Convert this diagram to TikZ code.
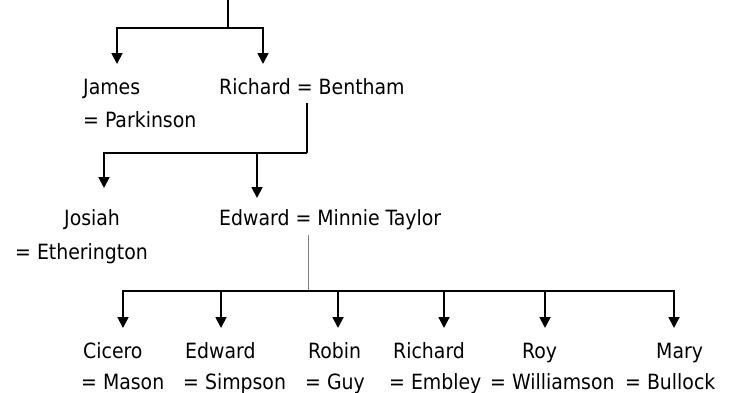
\documentclass[tikz,border=0pt]{standalone}
\usepackage{fontspec}
\setmainfont{DejaVu Sans Condensed}
\usetikzlibrary{arrows.meta}
\begin{document}
\begin{tikzpicture}[x=1pt,y=-1pt,
  lbl/.style={anchor=base west, inner sep=0pt, font=\fontsize{21}{25}\selectfont},
  ln/.style={line width=1.8pt, black},
  arr/.style={ln, -{Triangle[width=11pt,length=11pt]}},
  thinln/.style={line width=1pt, black!50}]
\useasboundingbox[fill=white] (0,0) rectangle (730,392);
% texts
\node[lbl] (james) at (83,94.5) {James};
\node[lbl] (jamesw) at (83,127.5) {= Parkinson};
\node[lbl] (rich) at (219,94.5) {Richard = Bentham};
\node[lbl] (josiah) at (64,225.5) {Josiah};
\node[lbl] (josiahw) at (15,259.5) {= Etherington};
\node[lbl] (edw) at (219,225.5) {Edward = Minnie Taylor};
\node[lbl] (c1) at (83,358) {Cicero};
\node[lbl] (c1w) at (81,389.5) {= Mason};
\node[lbl] (c2) at (185,358) {Edward};
\node[lbl] (c2w) at (183,389.5) {= Simpson};
\node[lbl] (c3) at (308,358) {Robin};
\node[lbl] (c3w) at (305,389.5) {= Guy};
\node[lbl] (c4) at (393,358) {Richard};
\node[lbl] (c4w) at (389,389.5) {= Embley};
\node[lbl] (c5) at (522,358) {Roy};
\node[lbl] (c5w) at (490,389.5) {= Williamson};
\node[lbl] (c6) at (656,358) {Mary};
\node[lbl] (c6w) at (625,389.5) {= Bullock};
% coordinates
\coordinate (top) at (228,0);
\coordinate (tj) at (228,28);
\coordinate (jamesTip) at (117,64);
\coordinate (richTip) at (263,64);
\coordinate (rbd) at (307,103);
\coordinate (r2) at (307,153);
\coordinate (e2) at (257,153);
\coordinate (josTip) at (104,188);
\coordinate (edTip) at (257,198);
\coordinate (emd) at (308,235);
\coordinate (em2) at (308,291);
\coordinate (b2) at (221,291);
\coordinate (b3) at (338,291);
\coordinate (b4) at (444,291);
\coordinate (b5) at (545,291);
\coordinate (t1) at (123,328);
\coordinate (t2) at (221,328);
\coordinate (t3) at (338,328);
\coordinate (t4) at (444,328);
\coordinate (t5) at (545,328);
\coordinate (t6) at (674,328);
% connectors
\draw[ln] (top) -- (tj);
\draw[arr] (tj) -| (jamesTip);
\draw[arr] (tj) -| (richTip);
\draw[ln] (rbd) -- (r2);
\draw[arr] (r2) -| (josTip);
\draw[arr] (e2) -- (edTip);
\draw[thinln] (emd) -- (em2);
\draw[arr] (em2) -| (t1);
\draw[arr] (em2) -| (t6);
\draw[arr] (b2) -- (t2);
\draw[arr] (b3) -- (t3);
\draw[arr] (b4) -- (t4);
\draw[arr] (b5) -- (t5);
\end{tikzpicture}
\end{document}
